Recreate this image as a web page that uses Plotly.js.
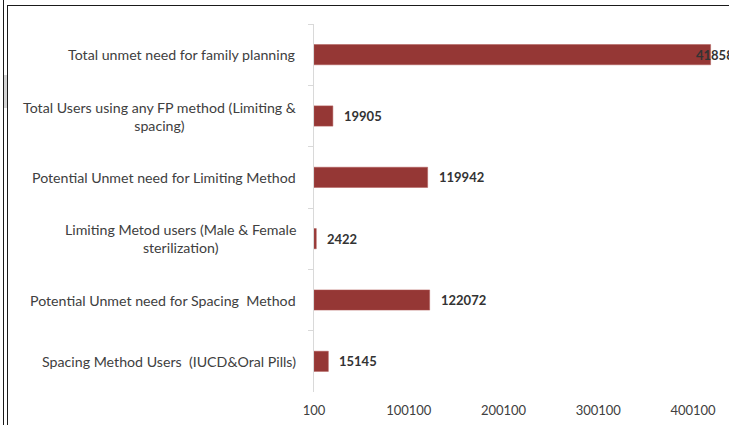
<!DOCTYPE html>
<html>
<head>
<meta charset="utf-8">
<script src="https://cdn.plot.ly/plotly-3.0.1.min.js"></script>
<style>
  html, body { margin: 0; padding: 0; background: #ffffff; overflow: hidden; }
  #chart { position: absolute; left: 0; top: 0; width: 729px; height: 425px; }
  .rule { position: absolute; background: #1a1a1a; pointer-events: none; }
</style>
</head>
<body>
<div id="chart"></div>
<!-- sheet frame lines around the chart -->
<div class="rule" style="left:3px; top:0; width:1px; height:425px;"></div>
<div class="rule" style="left:7px; top:5px; width:1px; height:420px;"></div>
<div class="rule" style="left:7px; top:5px; width:722px; height:1px;"></div>
<div class="rule" style="left:4px; top:75px; width:3px; height:33px; background:#d4d4d4;"></div>
<script>
// categories, top to bottom
const categories = [
  'Total unmet need for family planning',
  'Total Users using any FP method (Limiting &amp;<br>spacing)',
  'Potential Unmet need for Limiting Method',
  'Limiting Metod users (Male &amp; Female<br>sterilization)',
  'Potential Unmet need for Spacing\u00a0 Method',
  'Spacing Method Users\u00a0 (IUCD&amp;Oral Pills)'
];
const values = [418588, 19905, 119942, 2422, 122072, 15145];
const tickVals = [100, 100100, 200100, 300100, 400100];

const textColor = '#404040';
const fontFamily = "Lato, 'Liberation Sans', sans-serif";
const xMax = 438100;

const trace = {
  type: 'bar',
  orientation: 'h',
  x: values,
  y: categories,
  base: 100,
  marker: { color: '#953735', line: { color: '#b05a58', width: 0.5 } },
  hoverinfo: 'x+y'
};

// category labels (wrapped ones are centred like the original)
const catLabels = categories.map(c => ({
  x: 0, xref: 'paper', xanchor: 'right', xshift: -16,
  y: c, yref: 'y',
  text: c, showarrow: false, align: 'center',
  font: { family: fontFamily, size: 14.2, color: textColor }
}));

// value labels just past the end of each bar; a bar that nearly fills the
// plot gets its label pulled back over the bar end, as Excel did
const valLabels = values.map((v, i) => ({
  x: v + 100, xref: 'x', xanchor: 'left',
  xshift: (v / xMax > 0.9) ? -17 : 9,
  y: categories[i], yref: 'y',
  text: '<b>' + v + '</b>', showarrow: false,
  font: { family: fontFamily, size: 13, color: '#333333' }
}));

const layout = {
  width: 729,
  height: 425,
  margin: { l: 314, r: 0, t: 24, b: 33 },
  paper_bgcolor: '#ffffff',
  plot_bgcolor: '#ffffff',
  showlegend: false,
  bargap: 0.67,
  font: { family: fontFamily, size: 13, color: textColor },
  xaxis: {
    range: [100, xMax],
    tickvals: tickVals,
    ticktext: tickVals.map(String),
    showgrid: false,
    zeroline: false,
    showline: false,
    ticks: '',
    ticklabelstandoff: 9,
    tickfont: { family: fontFamily, size: 13, color: textColor }
  },
  yaxis: {
    type: 'category',
    autorange: 'reversed',
    showticklabels: false,
    showline: true,
    linecolor: '#d9d9d9',
    linewidth: 1,
    ticks: 'outside',
    tickson: 'boundaries',
    ticklen: 5,
    tickcolor: '#d9d9d9',
    showgrid: false,
    zeroline: false
  },
  annotations: catLabels.concat(valLabels)
};

Plotly.newPlot('chart', [trace], layout, { displayModeBar: false, responsive: false });
</script>
</body>
</html>
